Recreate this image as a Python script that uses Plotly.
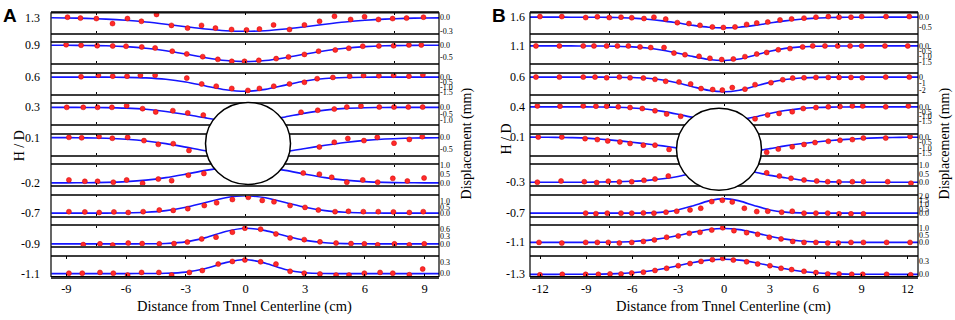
import plotly.graph_objects as go

# ---------------- data ----------------
HD_A = ["1.3", "0.9", "0.6", "0.3", "0.1", "-0.2", "-0.7", "-0.9", "-1.1"]
HD_B = ["1.6", "1.1", "0.6", "0.4", "0.1", "-0.3", "-0.7", "-1.1", "-1.3"]

X_TICKS_A = [-9, -6, -3, 0, 3, 6, 9]
X_TICKS_B = [-12, -9, -6, -3, 0, 3, 6, 9, 12]

CURVE_X_A = [-9.75, -9, -8, -7, -6, -5, -4, -3, -2, -1, 0, 1, 2, 3, 4, 5, 6, 7, 8, 9, 9.75]
CURVE_X_B = [-12.7, -12, -11, -10, -9, -8, -7, -6, -5, -4, -3, -2, -1, 0,
             1, 2, 3, 4, 5, 6, 7, 8, 9, 10, 11, 12, 12.7]

# fitted curves (displacement, mm)
CURVE_A1 = [-0.004, -0.007, -0.016, -0.032, -0.058, -0.095, -0.144, -0.199, -0.25, -0.287, -0.30,
            -0.287, -0.25, -0.199, -0.144, -0.095, -0.058, -0.032, -0.016, -0.007, -0.004]
CURVE_A2 = [-0.001, -0.003, -0.008, -0.023, -0.056, -0.119, -0.22, -0.356, -0.502, -0.616, -0.66,
            -0.616, -0.502, -0.356, -0.22, -0.119, -0.056, -0.023, -0.008, -0.003, -0.001]
CURVE_A3 = [0, 0, 0, -0.004, -0.021, -0.077, -0.22, -0.50, -0.905, -1.29, -1.45,
            -1.26, -0.82, -0.40, -0.148, -0.041, -0.009, -0.001, 0, 0, 0]
CURVE_A4 = [-0.001, -0.002, -0.007, -0.02, -0.06, -0.15, -0.31, -0.54, -0.80, -1.02, -1.1,
            -0.99, -0.73, -0.44, -0.21, -0.08, -0.027, -0.007, -0.002, 0, 0]
CURVE_A5 = [-0.002, -0.004, -0.011, -0.03, -0.07, -0.144, -0.258, -0.407, -0.563, -0.684, -0.73,
            -0.694, -0.598, -0.466, -0.328, -0.209, -0.12, -0.063, -0.03, -0.013, -0.006]
CURVE_A6 = [0.001, 0.003, 0.01, 0.029, 0.073, 0.16, 0.303, 0.50, 0.713, 0.884, 0.95,
            0.884, 0.713, 0.50, 0.303, 0.16, 0.073, 0.029, 0.01, 0.003, 0.001]
CURVE_A7 = [0, 0, 0, 0.004, 0.019, 0.074, 0.22, 0.51, 0.93, 1.33, 1.5,
            1.33, 0.93, 0.51, 0.22, 0.074, 0.019, 0.004, 0, 0, 0]
CURVE_A8 = [0, 0, 0, 0, 0, 0.002, 0.015, 0.078, 0.25, 0.5, 0.63,
            0.533, 0.323, 0.14, 0.043, 0.01, 0.002, 0, 0, 0, 0]
CURVE_A9 = [0, 0, 0, 0, 0, 0.001, 0.007, 0.039, 0.136, 0.288, 0.37,
            0.273, 0.11, 0.024, 0.003, 0, 0, 0, 0, 0, 0]

CURVE_B1 = [0, 0, 0, -0.001, -0.002, -0.008, -0.021, -0.05, -0.104, -0.189, -0.302, -0.421, -0.515, -0.55,
            -0.515, -0.421, -0.302, -0.189, -0.104, -0.05, -0.021, -0.008, -0.002, -0.001, 0, 0, 0]
CURVE_B2 = [0, 0, 0, 0, -0.003, -0.01, -0.031, -0.085, -0.20, -0.40, -0.68, -1.0, -1.26, -1.36,
            -1.22, -0.87, -0.50, -0.23, -0.085, -0.025, -0.006, -0.001, 0, 0, 0, 0, 0]
CURVE_B3 = [0, 0, 0, 0, 0, -0.004, -0.017, -0.061, -0.18, -0.45, -0.91, -1.50, -2.03, -2.24,
            -2.0, -1.41, -0.80, -0.36, -0.127, -0.036, -0.008, -0.001, 0, 0, 0, 0, 0]
CURVE_B4 = [0, 0, 0, -0.001, -0.004, -0.015, -0.044, -0.11, -0.24, -0.46, -0.76, -1.09, -1.35, -1.45,
            -1.33, -1.04, -0.68, -0.38, -0.18, -0.072, -0.025, -0.007, -0.002, 0, 0, 0, 0]
CURVE_B5 = [-0.005, -0.01, -0.03, -0.05, -0.09, -0.19, -0.32, -0.47, -0.63, -0.8, -1.0, -1.2, -1.38, -1.45,
            -1.4, -1.27, -1.05, -0.8, -0.6, -0.44, -0.31, -0.21, -0.13, -0.07, -0.04, -0.02, -0.01]
CURVE_B6 = [0, 0, 0, 0, 0, 0.01, 0.03, 0.06, 0.11, 0.2, 0.34, 0.55, 0.78, 0.9,
            0.8, 0.6, 0.4, 0.26, 0.13, 0.06, 0.02, 0.01, 0, 0, 0, 0, 0]
CURVE_B7 = [0, 0, 0, 0, 0, 0, 0, 0.004, 0.026, 0.115, 0.37, 0.86, 1.41, 1.67,
            1.41, 0.86, 0.37, 0.115, 0.026, 0.004, 0, 0, 0, 0, 0, 0, 0]
CURVE_B8 = [0, 0, 0, 0, 0.002, 0.007, 0.023, 0.063, 0.146, 0.292, 0.50, 0.735, 0.926, 1.0,
            0.913, 0.695, 0.441, 0.233, 0.103, 0.038, 0.012, 0.003, 0.001, 0, 0, 0, 0]
CURVE_B9 = [0, 0, 0, 0.001, 0.002, 0.006, 0.016, 0.037, 0.073, 0.129, 0.2, 0.273, 0.329, 0.35,
            0.329, 0.273, 0.2, 0.129, 0.073, 0.037, 0.016, 0.006, 0.002, 0.001, 0, 0, 0]

# measured points
DOT_X_A1 = [-8.94, -8.29, -7.49, -6.68, -5.93, -5.23, -4.47, -3.72, -2.91, -2.21, -1.51, -0.70, 0.05,
            0.70, 1.41, 2.21, 2.96, 3.72, 4.47, 5.28, 5.98, 6.68, 7.39, 8.09, 8.94]
DOT_Y_A1 = [0.01, -0.01, -0.02, -0.13, -0.02, -0.08, 0.07, -0.17, -0.23, -0.17, -0.23, -0.26, -0.27,
            -0.25, -0.16, -0.26, -0.16, -0.08, 0.03, -0.04, 0.02, -0.04, -0.02, -0.01, 0.01]
DOT_X_A2 = [-9.01, -8.26, -7.45, -6.67, -6.0, -5.21, -4.54, -3.68, -2.95, -2.15, -1.39, -0.69, -0.05,
            0.67, 1.54, 2.16, 2.96, 3.67, 4.51, 5.19, 5.89, 6.7, 7.44, 8.21, 8.83]
DOT_Y_A2 = [0.02, 0, -0.02, -0.03, -0.04, -0.07, -0.11, -0.24, -0.35, -0.46, -0.57, -0.65, -0.65,
            -0.61, -0.54, -0.47, -0.37, -0.24, -0.19, -0.12, -0.04, -0.03, -0.02, 0.01, 0.01]
DOT_X_A3 = [-8.26, -7.39, -6.67, -5.95, -5.28, -4.54, -2.95, -2.2, -1.47, -0.69, 0.12, 0.70, 1.42,
            2.21, 2.96, 3.6, 4.39, 5.23, 5.93, 6.70, 7.44, 8.21, 8.91]
DOT_Y_A3 = [0.04, 0.2, 0.1, 0.1, 0.2, 0.2, -0.1, -0.7, -0.93, -1.16, -1.36, -1.16, -0.93,
            -0.7, -0.53, -0.16, -0.03, 0.1, 0.17, 0.14, 0.2, 0.1, 0.24]
DOT_X_A4 = [-8.98, -8.15, -7.43, -6.71, -5.97, -5.17, -4.51, -3.65, -2.9, -2.12,
            2.79, 3.63, 4.46, 5.09, 5.8, 6.72, 7.46, 8.18, 8.9]
DOT_Y_A4 = [0, 0, 0, 0, 0.13, -0.1, -0.35, -0.25, -0.42, -0.59,
            -0.37, -0.22, -0.13, 0.02, 0.1, 0.02, 0.02, 0.02, 0.02]
DOT_X_A5 = [-8.87, -8.23, -7.36, -6.69, -5.92, -5.1, -4.38, -3.63, -2.84,
            3.71, 4.46, 5.14, 5.95, 6.62, 7.46, 8.23, 8.88]
DOT_Y_A5 = [0.01, -0.01, 0.05, -0.03, 0.01, -0.13, -0.29, -0.26, -0.55,
            -0.4, -0.2, -0.04, -0.13, 0.01, -0.24, -0.08, 0.04]
DOT_X_A6 = [-8.87, -8.07, -7.43, -6.64, -5.97, -5.17, -4.38, -3.71, -2.87, -2.09,
            2.9, 3.71, 4.33, 5.09, 5.89, 6.64, 7.4, 8.13, 8.97]
DOT_Y_A6 = [0.17, 0.09, 0.09, 0.04, 0.17, -0.02, 0.22, 0.13, 0.44, 0.54,
            0.56, 0.5, 0.32, 0.04, 0.17, 0.04, 0.26, 0.11, 0.28]
DOT_X_A7 = [-8.87, -8.07, -7.35, -6.61, -5.89, -5.14, -4.33, -3.63, -2.9, -2.07, -1.45, -0.66, 0.14,
            0.84, 1.43, 2.24, 2.99, 3.66, 4.5, 5.17, 5.92, 6.67, 7.43, 8.23, 8.93]
DOT_Y_A7 = [0.13, 0.11, 0.06, 0.11, 0.06, 0.13, 0.27, 0.24, 0.39, 0.66, 0.9, 1.18, 1.37,
            1.1, 0.98, 0.66, 0.5, 0.27, 0.13, 0.16, 0.13, 0.13, 0.11, 0.06, 0.13]
DOT_X_A8 = [-8.15, -7.31, -6.67, -5.89, -5.19, -4.33, -3.59, -2.92, -2.2, -1.48, -0.66, -0.03,
            0.76, 1.53, 2.24, 2.95, 3.74, 4.55, 5.3, 5.97, 6.64, 7.48, 8.23, 8.98]
DOT_Y_A8 = [-0.03, 0, -0.05, 0.03, 0.01, 0, 0.01, 0.07, 0.2, 0.27, 0.47, 0.63,
            0.59, 0.4, 0.24, 0.17, 0.08, 0.03, 0.01, 0, -0.04, 0, -0.04, 0]
DOT_X_A9 = [-8.87, -8.2, -7.31, -6.64, -5.92, -5.22, -4.35, -3.71, -2.82, -2.17, -1.37, -0.66, -0.03,
            0.76, 1.53, 2.24, 2.95, 3.74, 4.55, 5.2, 5.97, 6.76, 7.4, 8.23, 8.9]
DOT_Y_A9 = [0.01, 0.01, 0.03, 0.01, -0.04, 0.03, 0.03, -0.04, 0.03, 0.08, 0.25, 0.32, 0.36,
            0.31, 0.25, 0.06, 0.01, -0.01, -0.04, -0.04, 0.01, 0.03, 0.01, -0.03, 0.12]

DOT_X_B1 = [-12.03, -10.6, -9.04, -8.28, -7.5, -6.73, -6.03, -5.23, -4.58, -3.81, -3.05, -2.29, -1.57, -0.76,
            -0.04, 0.72, 1.48, 2.14, 2.86, 3.66, 4.42, 5.23, 6.01, 6.82, 7.52, 8.3, 9.0, 10.59, 12.11]
DOT_Y_B1 = [0.03, 0.03, -0.02, 0.02, -0.02, 0, -0.03, -0.07, 0, -0.1, -0.28, -0.33, -0.42, -0.5,
            -0.53, -0.5, -0.37, -0.3, -0.25, -0.14, -0.09, -0.05, 0, 0.03, 0, 0, 0.03, 0.03, 0.03]
DOT_X_B2 = [-12.29, -10.76, -9.2, -8.5, -7.67, -6.97, -6.25, -5.49, -4.79, -3.92, -3.27, -2.55, -1.63, -0.92,
            -0.15, 0.61, 1.37, 2.14, 2.79, 3.55, 4.31, 5.14, 5.8, 6.6, 7.43, 8.24, 9.0, 10.52, 12.01]
DOT_Y_B2 = [0, 0, 0, 0, 0, 0, 0, -0.09, -0.15, -0.15, -0.67, -0.82, -0.97, -1.15,
            -1.27, -1.22, -1.0, -0.76, -0.61, -0.36, -0.25, -0.09, 0, 0, 0, 0, 0, 0, 0]
DOT_X_B3 = [-12.29, -10.76, -9.2, -8.43, -7.67, -6.84, -6.14, -5.27, -4.51, -3.81, -2.94, -2.18, -1.5, -0.74,
            -0.11, 0.54, 1.37, 2.03, 3.07, 3.84, 4.49, 5.23, 6.01, 6.82, 7.52, 8.3, 9.04, 10.57, 12.11]
DOT_Y_B3 = [0, 0, 0, 0, -0.1, 0, -0.1, -0.15, -0.34, -0.64, -0.75, -1.04, -1.75, -1.9,
            -1.99, -1.6, -1.84, -1.15, -0.85, -0.4, -0.15, -0.1, -0.04, -0.04, -0.04, -0.04, -0.1, 0, 0]
DOT_X_B4 = [-12.2, -10.72, -9.2, -8.37, -7.67, -6.91, -6.14, -5.34, -4.51, -3.75, -2.83,
            2.03, 2.85, 3.6, 4.46, 5.18, 6.01, 6.82, 7.58, 8.39, 9.07, 10.57, 12.05]
DOT_Y_B4 = [0.1, 0.07, 0.1, 0.07, 0.07, 0, -0.07, -0.17, -0.4, -0.73, -0.97,
            -1.23, -0.83, -0.67, -0.5, -0.17, -0.07, 0, 0.03, 0.1, 0.1, 0, 0.1]
DOT_X_B5 = [-12.14, -10.6, -9.08, -8.28, -7.6, -6.8, -6.14, -5.27, -4.51, -3.59,
            2.79, 3.55, 4.46, 5.23, 5.95, 6.82, 7.58, 8.39, 9.11, 10.57, 12.16]
DOT_Y_B5 = [0, 0, -0.14, -0.23, -0.35, -0.44, -0.58, -0.73, -0.73, -1.12,
            -1.38, -1.09, -0.88, -0.67, -0.5, -0.38, -0.29, -0.23, -0.09, -0.09, 0.06]
DOT_X_B6 = [-12.2, -10.65, -9.13, -8.32, -7.56, -6.84, -6.03, -5.23, -4.51, -3.64,
            2.79, 3.62, 4.38, 5.23, 6.06, 6.78, 7.52, 8.39, 9.11, 10.7, 12.22]
DOT_Y_B6 = [0, 0.07, 0.03, -0.02, 0.06, 0.02, 0.03, 0.11, 0.19, 0.36,
            0.55, 0.36, 0.23, 0.13, 0.07, 0.03, 0.02, 0.03, 0.03, 0.03, -0.06]
DOT_X_B7 = [-9.04, -8.37, -7.63, -6.73, -6.03, -5.27, -4.58, -3.79, -3.09, -2.22, -1.52, -0.8, -0.11,
            0.54, 1.33, 2.14, 2.86, 3.77, 4.46, 5.23, 6.01, 6.78, 7.52, 8.3, 9.11]
DOT_Y_B7 = [0, -0.06, 0, 0, 0, 0.03, 0, 0.11, 0.22, 0.37, 0.56, 1.33, 1.48,
            1.29, 0.56, 0.18, 0.22, 0.11, 0.22, 0, 0, 0, -0.08, -0.08, -0.08]
DOT_X_B8 = [-12.09, -10.6, -9.04, -8.28, -7.56, -6.84, -6.03, -5.27, -4.55, -3.75, -2.99, -2.27, -1.57, -0.8,
            -0.08, 0.65, 1.48, 2.2, 2.96, 3.73, 4.49, 5.23, 6.01, 6.78, 7.47, 8.3, 9.11, 10.63, 12.16]
DOT_Y_B8 = [0, -0.05, 0, 0, 0, -0.05, 0, 0.07, 0.18, 0.37, 0.46, 0.65, 0.72, 0.88,
            1.05, 0.84, 0.7, 0.58, 0.37, 0.25, 0.07, 0, 0, -0.05, -0.05, 0, 0, 0, 0]
DOT_X_B9 = [-12.03, -10.57, -9.04, -8.21, -7.45, -6.73, -6.03, -5.27, -4.51, -3.75, -2.99, -2.22, -1.5, -0.76,
            -0.08, 0.61, 1.48, 2.2, 3.0, 3.73, 4.42, 5.23, 6.01, 6.78, 7.52, 8.35, 9.07, 10.63, 12.2]
DOT_Y_B9 = [-0.01, 0, 0, 0, 0.01, 0.01, 0.03, 0.05, 0.09, 0.14, 0.2, 0.25, 0.3, 0.34,
            0.37, 0.33, 0.29, 0.24, 0.2, 0.14, 0.11, 0.07, 0.04, 0.01, 0.01, 0, 0, 0, -0.01]

# right-axis (displacement) ticks per strip
DISP_TICKS_A = [[0.0, -0.3], [0.0, -0.5], [0.0, -0.5, -1.0, -1.5], [0.0, -0.5, -1.0], [0.0, -0.5],
                [1.0, 0.5, 0.0], [1.0, 0.5, 0.0], [0.6, 0.3, 0.0], [0.3, 0.0]]
DISP_TEXT_A = [["0.0", "-0.3"], ["0.0", "-0.5"], ["0.0", "-0.5", "-1.0", "-1.5"], ["0.0", "-0.5", "-1.0"],
               ["0.0", "-0.5"], ["1.0", "0.5", "0.0"], ["1.0", "0.5", "0.0"], ["0.6", "0.3", "0.0"], ["0.3", "0.0"]]
DISP_TICKS_B = [[0.0, -0.5], [0.0, -0.5, -1.0, -1.5], [0, -1, -2], [0.0, -0.5, -1.0, -1.5],
                [0.0, -0.5, -1.0, -1.5], [1.0, 0.5, 0.0], [2.0, 1.5, 1.0, 0.5, 0.0], [1.0, 0.5, 0.0], [0.3, 0.0]]
DISP_TEXT_B = [["0.0", "-0.5"], ["0.0", "-0.5", "-1.0", "-1.5"], ["0", "-1", "-2"], ["0.0", "-0.5", "-1.0", "-1.5"],
               ["0.0", "-0.5", "-1.0", "-1.5"], ["1.0", "0.5", "0.0"], ["2.0", "1.5", "1.0", "0.5", "0.0"],
               ["1.0", "0.5", "0.0"], ["0.3", "0.0"]]

# y ranges (mm) of each strip
YRANGE_A = [[-0.332, 0.107], [-0.726, 0.081], [-1.7, 0.35], [-1.278, 0.241], [-0.729, 0.125],
            [-0.125, 1.014], [-0.208, 1.52], [-0.088, 0.716], [-0.077, 0.449]]
YRANGE_B = [[-0.8, 0.225], [-1.614, 0.25], [-2.537, 0.522], [-1.775, 0.275], [-1.593, 0.221],
            [-0.169, 1.003], [-0.281, 2.022], [-0.262, 1.171], [-0.05, 0.412]]

XRANGE_A = [-9.77, 9.72]
XRANGE_B = [-12.68, 12.68]

# ---------------- figure ----------------
W, H = 955, 320
SERIF = "Liberation Serif, Times New Roman, serif"
LINE_C = "#3c3c3c"

panels = [
    dict(xdom=(51, 439), xr=XRANGE_A, cx=CURVE_X_A,
         curves=[CURVE_A1, CURVE_A2, CURVE_A3, CURVE_A4, CURVE_A5, CURVE_A6, CURVE_A7, CURVE_A8, CURVE_A9],
         dx=[DOT_X_A1, DOT_X_A2, DOT_X_A3, DOT_X_A4, DOT_X_A5, DOT_X_A6, DOT_X_A7, DOT_X_A8, DOT_X_A9],
         dy=[DOT_Y_A1, DOT_Y_A2, DOT_Y_A3, DOT_Y_A4, DOT_Y_A5, DOT_Y_A6, DOT_Y_A7, DOT_Y_A8, DOT_Y_A9],
         hd=HD_A, ticks=DISP_TICKS_A, ttext=DISP_TEXT_A, yr=YRANGE_A, xt=X_TICKS_A,
         hd_right=41.5, letter="A", letter_x=10, hd_title=(19, 146), disp_x=467,
         circ=(248, 143)),
    dict(xdom=(530, 918), xr=XRANGE_B, cx=CURVE_X_B,
         curves=[CURVE_B1, CURVE_B2, CURVE_B3, CURVE_B4, CURVE_B5, CURVE_B6, CURVE_B7, CURVE_B8, CURVE_B9],
         dx=[DOT_X_B1, DOT_X_B2, DOT_X_B3, DOT_X_B4, DOT_X_B5, DOT_X_B6, DOT_X_B7, DOT_X_B8, DOT_X_B9],
         dy=[DOT_Y_B1, DOT_Y_B2, DOT_Y_B3, DOT_Y_B4, DOT_Y_B5, DOT_Y_B6, DOT_Y_B7, DOT_Y_B8, DOT_Y_B9],
         hd=HD_B, ticks=DISP_TICKS_B, ttext=DISP_TEXT_B, yr=YRANGE_B, xt=X_TICKS_B,
         hd_right=526.5, letter="B", letter_x=499, hd_title=(507, 139), disp_x=945,
         circ=(719, 149)),
]

STRIP_TOP0, STRIP_PITCH, STRIP_H = 9.0, 31.25, 20.5

fig = go.Figure()
layout = dict(width=W, height=H, margin=dict(l=0, r=0, t=0, b=0),
              paper_bgcolor="white", plot_bgcolor="white", showlegend=False)
annotations = []
shapes = []

for p, P in enumerate(panels):
    x0px, x1px = P["xdom"]
    for k in range(9):
        n = p * 9 + k + 1
        sfx = "" if n == 1 else str(n)
        top = STRIP_TOP0 + STRIP_PITCH * k
        bot = top + STRIP_H
        last = (k == 8)
        xa = dict(domain=[x0px / W, x1px / W], range=P["xr"], anchor="y" + sfx,
                  showline=True, linecolor=LINE_C, linewidth=1.5, mirror="ticks",
                  ticks="inside", ticklen=2, tickcolor="black", tickwidth=1,
                  showgrid=False, zeroline=False, fixedrange=True)
        if last:
            xa.update(tickvals=P["xt"], ticktext=[str(v) for v in P["xt"]],
                      showticklabels=True, ticklen=3,
                      tickfont=dict(family=SERIF, size=12.5, color="black"))
        else:
            xa.update(tickvals=[-7.5, 0, 7.5], showticklabels=False)
        ya = dict(domain=[1 - bot / H, 1 - top / H], range=P["yr"][k], anchor="x" + sfx,
                  side="right", tickvals=P["ticks"][k], ticktext=P["ttext"][k],
                  tickfont=dict(family=SERIF, size=8, color="black"), ticks="",
                  showline=False, showgrid=False, zeroline=False, fixedrange=True)
        layout["xaxis" + sfx] = xa
        layout["yaxis" + sfx] = ya

        fig.add_trace(go.Scatter(x=P["cx"], y=P["curves"][k], mode="lines",
                                 line=dict(color="#1515ff", width=1.6, shape="spline", smoothing=0.8),
                                 xaxis="x" + sfx, yaxis="y" + sfx, hoverinfo="skip"))
        fig.add_trace(go.Scatter(x=P["dx"][k], y=P["dy"][k], mode="markers",
                                 marker=dict(color="#ff2a2a", size=5, line=dict(color="#d00000", width=0.5)),
                                 cliponaxis=False, xaxis="x" + sfx, yaxis="y" + sfx))
        annotations.append(dict(text=P["hd"][k], x=P["hd_right"] / W, xref="paper", xanchor="right",
                                y=0, yref="y" + sfx, yanchor="middle", showarrow=False,
                                font=dict(family=SERIF, size=12, color="black")))

    # panel frame
    shapes.append(dict(type="rect", xref="paper", yref="paper",
                       x0=x0px / W, x1=x1px / W,
                       y0=1 - (STRIP_TOP0 + STRIP_PITCH * 8 + STRIP_H) / H, y1=1 - STRIP_TOP0 / H,
                       line=dict(color="black", width=1.2), fillcolor="rgba(0,0,0,0)", layer="above"))
    # tunnel
    cxp, cyp = P["circ"]
    shapes.append(dict(type="circle", xref="paper", yref="paper",
                       xsizemode="pixel", ysizemode="pixel",
                       xanchor=cxp / W, yanchor=1 - cyp / H,
                       x0=-42.5, x1=42.5, y0=-41, y1=41,
                       line=dict(color="black", width=1.5), fillcolor="white", layer="above"))

    annotations.append(dict(text="<b>" + P["letter"] + "</b>", x=P["letter_x"] / W, y=1 - 11.5 / H,
                            xref="paper", yref="paper", xanchor="center", yanchor="middle", showarrow=False,
                            font=dict(family="Liberation Sans, Arial, sans-serif", size=19, color="black")))
    annotations.append(dict(text="H / D", x=P["hd_title"][0] / W, y=1 - P["hd_title"][1] / H,
                            xref="paper", yref="paper", xanchor="center", yanchor="middle", textangle=-90,
                            showarrow=False, font=dict(family=SERIF, size=14, color="black")))
    annotations.append(dict(text="Displacement (mm)", x=P["disp_x"] / W, y=1 - 143 / H,
                            xref="paper", yref="paper", xanchor="center", yanchor="middle", textangle=-90,
                            showarrow=False, font=dict(family=SERIF, size=14, color="black")))
    annotations.append(dict(text="Distance from Tnnel Centerline (cm)", x=((x0px + x1px) / 2 - 1) / W,
                            y=1 - 310 / H, xref="paper", yref="paper", xanchor="center", yanchor="middle",
                            showarrow=False, font=dict(family=SERIF, size=14.5, color="black")))

layout["annotations"] = annotations
layout["shapes"] = shapes
fig.update_layout(**layout)
fig.write_html("out.html", config={"displayModeBar": False},
               post_script="document.body.style.margin='0';document.body.style.padding='0';")
